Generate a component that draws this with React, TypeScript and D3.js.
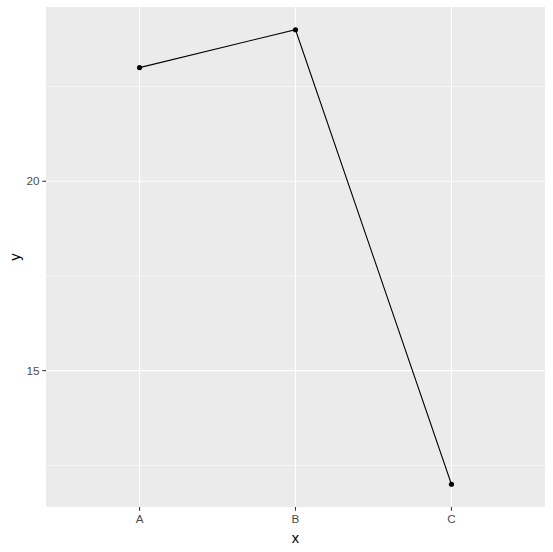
import React from "react";
import * as d3 from "d3";

const categories = ["A", "B", "C"];
const values = [23, 24, 12];
const yTicks = [15, 20];
const yMinor = [12.5, 17.5, 22.5];

export default function App() {
  const W = 553, H = 552;
  const left = 46, right = 545, top = 7, bottom = 507;
  const x = d3.scalePoint<string>().domain(categories).range([left, right]).padding(0.6);
  // padding for point scale: outer padding in step units
  const step = (right - left) / (categories.length - 1 + 1.2);
  const xp = (c: string) => left + (0.6 + categories.indexOf(c)) * step;
  const lo = d3.min(values)!, hi = d3.max(values)!;
  const pad = (hi - lo) * 0.05;
  const y = d3.scaleLinear().domain([lo - pad, hi + pad]).range([bottom, top]);
  const line = d3.line<number>().x((_, i) => xp(categories[i])).y((d) => y(d));
  const font = "'Liberation Sans', Arial, sans-serif";
  void x;
  return (
    <svg width={W} height={H} style={{ position: "absolute", left: 0, top: 0, background: "#fff" }}>
      <rect x={left} y={top} width={right - left} height={bottom - top} fill="#EBEBEB" />
      {yMinor.map((t) => (
        <line key={"m" + t} x1={left} x2={right} y1={y(t)} y2={y(t)} stroke="#fff" strokeWidth={0.55} />
      ))}
      {yTicks.map((t) => (
        <line key={"g" + t} x1={left} x2={right} y1={y(t)} y2={y(t)} stroke="#fff" strokeWidth={1.1} />
      ))}
      {categories.map((c) => (
        <line key={"gx" + c} x1={xp(c)} x2={xp(c)} y1={top} y2={bottom} stroke="#fff" strokeWidth={1.1} />
      ))}
      <path d={line(values) || ""} fill="none" stroke="#000" strokeWidth={1.07} />
      {values.map((v, i) => (
        <circle key={i} cx={xp(categories[i])} cy={y(v)} r={2.6} fill="#000" />
      ))}
      {yTicks.map((t) => (
        <g key={"yt" + t}>
          <line x1={left - 3.7} x2={left} y1={y(t)} y2={y(t)} stroke="#333" strokeWidth={1.07} />
          <text x={left - 6.5} y={y(t)} dy="0.35em" textAnchor="end" fontFamily={font} fontSize={11.7} fill="#4D4D4D">{t}</text>
        </g>
      ))}
      {categories.map((c) => (
        <g key={"xt" + c}>
          <line x1={xp(c)} x2={xp(c)} y1={bottom} y2={bottom + 3.7} stroke="#333" strokeWidth={1.07} />
          <text x={xp(c)} y={bottom + 16} textAnchor="middle" fontFamily={font} fontSize={11.7} fill="#4D4D4D">{c}</text>
        </g>
      ))}
      <text x={(left + right) / 2} y={543} textAnchor="middle" fontFamily={font} fontSize={14.7} fill="#000">x</text>
      <text transform={`translate(20,${(top + bottom) / 2}) rotate(-90)`} textAnchor="middle" fontFamily={font} fontSize={14.7} fill="#000">y</text>
    </svg>
  );
}
